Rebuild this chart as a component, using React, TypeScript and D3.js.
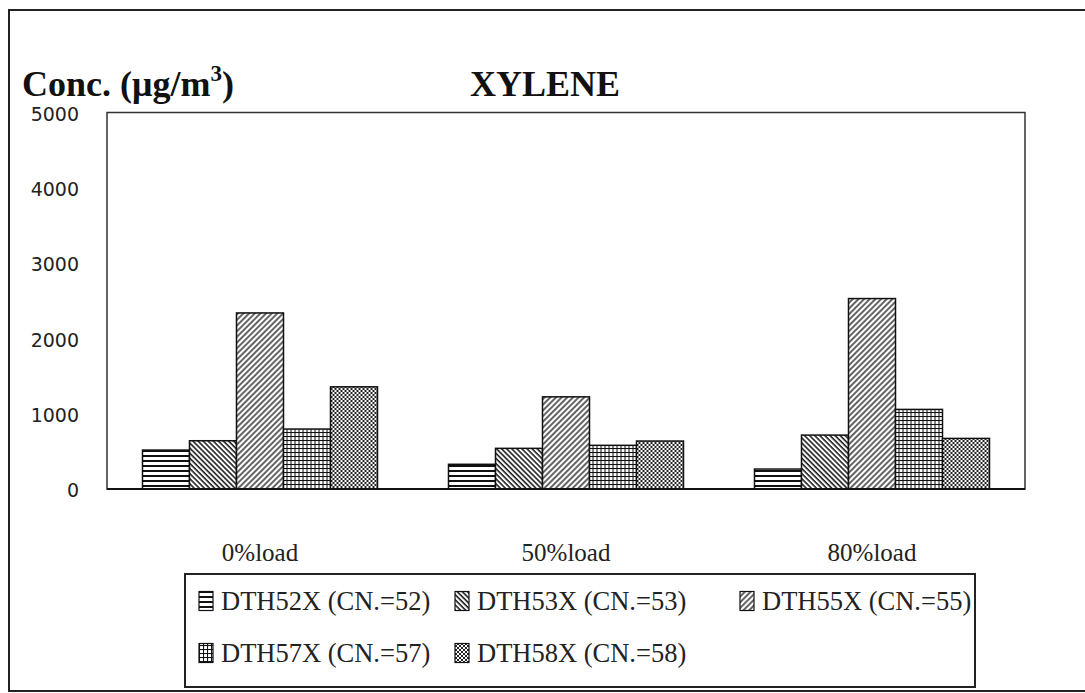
import React from "react";
import * as d3 from "d3";

const categories = ["0%load", "50%load", "80%load"];
const seriesNames = [
  "DTH52X (CN.=52)",
  "DTH53X (CN.=53)",
  "DTH55X (CN.=55)",
  "DTH57X (CN.=57)",
  "DTH58X (CN.=58)",
];
const dth52x = [517, 328, 265];
const dth53x = [641, 540, 716];
const dth55x = [2338, 1224, 2529];
const dth57x = [796, 580, 1057];
const dth58x = [1357, 637, 672];
const seriesValues = [dth52x, dth53x, dth55x, dth57x, dth58x];
const yTicks = [0, 1000, 2000, 3000, 4000, 5000];
const patternIds = ["pHoriz", "pBack", "pFwd", "pGrid", "pDots"];

const W = 1085;
const H = 693;
const plot = { left: 107, right: 1025, top: 112.5, bottom: 489 };
const FONT = "'Liberation Serif', 'Times New Roman', serif";
const TICK_FONT = "'DejaVu Sans', Verdana, sans-serif";

export default function App() {
  const x0 = d3
    .scaleBand<string>()
    .domain(categories)
    .range([plot.left, plot.right])
    .paddingInner(0.232)
    .paddingOuter(0.116);
  const x1 = d3
    .scaleBand<string>()
    .domain(seriesNames)
    .range([0, x0.bandwidth()])
    .padding(0);
  const y = d3.scaleLinear().domain([0, 5000]).range([plot.bottom, plot.top]);

  const legendRows = [
    [0, 1, 2],
    [3, 4],
  ];
  const legendX = [199, 455, 740];
  const legendY = [601, 653];

  return (
    <svg
      width={W}
      height={H}
      style={{ position: "absolute", left: 0, top: 0, background: "#fff" }}
      fontFamily={FONT}
    >
      <defs>
        <pattern id="pHoriz" width={6} height={5} patternUnits="userSpaceOnUse">
          <rect width={6} height={5} fill="#fff" />
          <line x1={0} x2={6} y1={1} y2={1} stroke="#111" strokeWidth={2} />
        </pattern>
        <pattern
          id="pBack"
          width={3.6}
          height={10}
          patternUnits="userSpaceOnUse"
          patternTransform="rotate(-45)"
        >
          <rect width={3.6} height={10} fill="#fff" />
          <line x1={1} x2={1} y1={0} y2={10} stroke="#111" strokeWidth={1.5} />
        </pattern>
        <pattern
          id="pFwd"
          width={4}
          height={10}
          patternUnits="userSpaceOnUse"
          patternTransform="rotate(45)"
        >
          <rect width={4} height={10} fill="#fff" />
          <line x1={1} x2={1} y1={0} y2={10} stroke="#222" strokeWidth={1.4} />
        </pattern>
        <pattern id="pGrid" width={4} height={4} patternUnits="userSpaceOnUse">
          <rect width={4} height={4} fill="#fff" />
          <line x1={0} x2={4} y1={0.5} y2={0.5} stroke="#111" strokeWidth={1.1} />
          <line x1={0.5} x2={0.5} y1={0} y2={4} stroke="#111" strokeWidth={1.1} />
        </pattern>
        <pattern id="pDots" width={4} height={4} patternUnits="userSpaceOnUse">
          <rect width={4} height={4} fill="#fff" />
          <rect x={0} y={0} width={2} height={2} fill="#222" />
          <rect x={2} y={2} width={2} height={2} fill="#222" />
        </pattern>
      </defs>

      {/* outer frame */}
      <rect x={9} y={10} width={1090} height={681} fill="none" stroke="#222" strokeWidth={2} />

      {/* axis title and chart title */}
      <text x={22} y={96} fontSize={36} fontWeight="bold" fill="#111">
        Conc. (μg/m
        <tspan dy={-15} fontSize={23}>3</tspan>
        <tspan dy={15}>)</tspan>
      </text>
      <text x={545} y={96} fontSize={36} fontWeight="bold" textAnchor="middle" fill="#111">
        XYLENE
      </text>

      {/* y tick labels */}
      {yTicks.map((t) => (
        <text
          key={t}
          x={79}
          y={y(t) + 1.5}
          dy="0.36em"
          fontSize={19}
          fontFamily={TICK_FONT}
          textAnchor="end"
          fill="#222"
        >
          {t}
        </text>
      ))}

      {/* plot frame */}
      <rect
        x={plot.left}
        y={plot.top}
        width={plot.right - plot.left}
        height={plot.bottom - plot.top}
        fill="none"
        stroke="#333"
        strokeWidth={1.5}
      />

      {/* bars */}
      {categories.map((c, ci) => (
        <g key={c} transform={`translate(${x0(c)},0)`}>
          {seriesNames.map((s, si) => {
            const v = seriesValues[si][ci];
            return (
              <rect
                key={s}
                x={x1(s)}
                y={y(v)}
                width={x1.bandwidth()}
                height={y(0) - y(v)}
                fill={`url(#${patternIds[si]})`}
                stroke="#111"
                strokeWidth={1.5}
              />
            );
          })}
        </g>
      ))}
      <line x1={plot.left} x2={plot.right} y1={plot.bottom} y2={plot.bottom} stroke="#111" strokeWidth={2} />

      {/* category labels */}
      {categories.map((c) => (
        <text
          key={c}
          x={(x0(c) as number) + x0.bandwidth() / 2}
          y={561}
          fontSize={25}
          textAnchor="middle"
          fill="#222"
        >
          {c}
        </text>
      ))}

      {/* legend */}
      <rect x={185} y={574} width={790} height={113} fill="#fff" stroke="#222" strokeWidth={2} />
      {legendRows.map((row, ri) =>
        row.map((si, k) => (
          <g key={si} transform={`translate(${legendX[k]},${legendY[ri]})`}>
            <rect
              x={0}
              y={-9.5}
              width={14}
              height={19}
              fill={`url(#${patternIds[si]})`}
              stroke="#111"
              strokeWidth={1.2}
            />
            <text x={22} y={0} dy="0.34em" fontSize={26.5} fill="#222">
              {seriesNames[si]}
            </text>
          </g>
        ))
      )}
    </svg>
  );
}
